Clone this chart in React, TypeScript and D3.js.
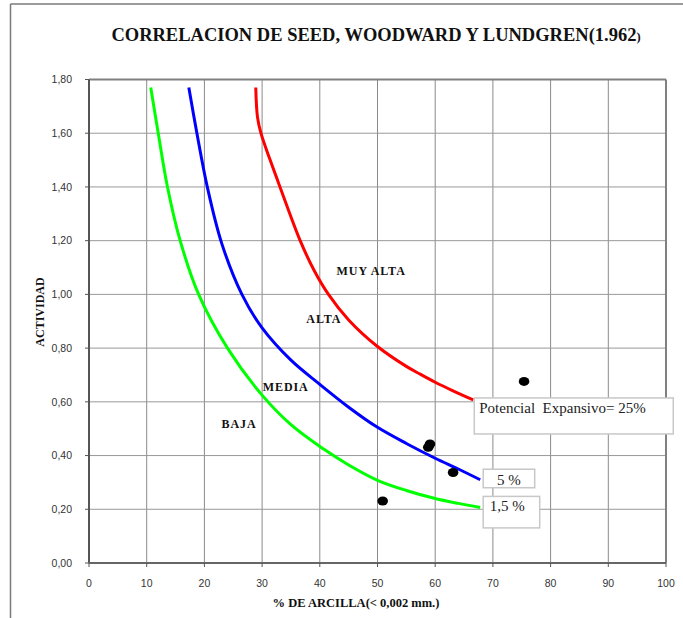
import React from "react";
import * as d3 from "d3";

const xTicks = [0, 10, 20, 30, 40, 50, 60, 70, 80, 90, 100];
const yTicks = [0, 0.2, 0.4, 0.6, 0.8, 1.0, 1.2, 1.4, 1.6, 1.8];

// [clay %, activity]
const greenCurve: [number, number][] = [
  [10.7, 1.77], [12.0, 1.6], [13.6, 1.4], [15.8, 1.2], [19.0, 1.0], [24.0, 0.8],
  [30.0, 0.625], [35.0, 0.515], [40.6, 0.425], [45.0, 0.365], [50.0, 0.308],
  [55.0, 0.27], [60.0, 0.24], [64.0, 0.222], [67.8, 0.207],
];
const blueCurve: [number, number][] = [
  [17.3, 1.77], [18.7, 1.6], [20.5, 1.4], [23.0, 1.19], [26.5, 1.0], [30.0, 0.875],
  [35.0, 0.755], [40.0, 0.665], [45.0, 0.58], [50.0, 0.505], [55.0, 0.445],
  [60.0, 0.39], [64.0, 0.35], [67.8, 0.31],
];
const redCurve: [number, number][] = [
  [28.9, 1.77], [29.2, 1.66], [29.8, 1.6], [31.4, 1.5], [33.1, 1.4], [36.6, 1.2],
  [39.0, 1.09], [41.5, 1.0], [45.0, 0.905], [50.0, 0.806], [55.0, 0.732],
  [57.4, 0.703], [60.0, 0.673], [63.0, 0.642], [66.6, 0.607],
];
const samples: [number, number][] = [
  [75.4, 0.676], [59.1, 0.443], [58.8, 0.431], [63.1, 0.337], [50.9, 0.231],
];
const zoneLabels: { text: string; c: number; a: number }[] = [
  { text: "MUY ALTA", c: 48.9, a: 1.073 },
  { text: "ALTA", c: 40.7, a: 0.895 },
  { text: "MEDIA", c: 34.1, a: 0.642 },
  { text: "BAJA", c: 26.0, a: 0.502 },
];
const curveLabels = ["Potencial  Expansivo= 25%", "5 %", "1,5 %"];

const W = 683, H = 618;
const x = d3.scaleLinear().domain([0, 100]).range([89, 666]);
const y = d3.scaleLinear().domain([0, 1.8]).range([563, 79.5]);
const line = d3
  .line<[number, number]>()
  .x((d) => x(d[0]))
  .y((d) => y(d[1]))
  .curve(d3.curveCatmullRom.alpha(0.5));

const fmtY = (v: number) => v.toFixed(2).replace(".", ",");
const serif = "'Liberation Serif', 'Times New Roman', serif";
const sans = "'Liberation Sans', Arial, sans-serif";

export default function App() {
  const redEnd = redCurve[redCurve.length - 1];
  const blueEnd = blueCurve[blueCurve.length - 1];
  const greenEnd = greenCurve[greenCurve.length - 1];
  return (
    <svg width={W} height={H} style={{ position: "absolute", left: 0, top: 0, background: "#fff" }}>
      <rect x={0} y={0} width={W} height={H} fill="#fff" />
      {/* outer frame */}
      <line x1={10.5} y1={4} x2={W} y2={4} stroke="#7a7a7a" strokeWidth={1.5} />
      <line x1={10.5} y1={4} x2={10.5} y2={H} stroke="#7a7a7a" strokeWidth={1.5} />

      <text x={376} y={41} textAnchor="middle" fontFamily={serif} fontWeight="bold" fontSize={18.5} fill="#111">
        CORRELACION DE SEED, WOODWARD Y LUNDGREN(1.962<tspan fontSize={12.5}>)</tspan>
      </text>

      {/* grid */}
      {xTicks.slice(1, -1).map((t) => (
        <line key={"gx" + t} x1={x(t)} x2={x(t)} y1={y(1.8)} y2={y(0)} stroke="#8a8a8a" strokeWidth={1} />
      ))}
      {yTicks.slice(1, -1).map((t) => (
        <line key={"gy" + t} x1={x(0)} x2={x(100)} y1={y(t)} y2={y(t)} stroke="#999" strokeWidth={1} />
      ))}
      {/* plot frame */}
      <line x1={x(0)} x2={x(100)} y1={y(1.8)} y2={y(1.8)} stroke="#808080" strokeWidth={2} />
      <line x1={x(100)} x2={x(100)} y1={y(1.8)} y2={y(0)} stroke="#808080" strokeWidth={2} />
      <line x1={x(0)} x2={x(0)} y1={y(1.8)} y2={y(0)} stroke="#555" strokeWidth={2} />
      <line x1={x(0)} x2={x(100)} y1={y(0)} y2={y(0)} stroke="#666" strokeWidth={2} />

      {/* ticks */}
      {yTicks.map((t) => (
        <g key={"ty" + t}>
          <line x1={x(0) - 4} x2={x(0)} y1={y(t)} y2={y(t)} stroke="#555" strokeWidth={1} />
          <text x={72} y={y(t)} dy="0.35em" textAnchor="end" fontFamily={sans} fontSize={10.5} fill="#333">
            {fmtY(t)}
          </text>
        </g>
      ))}
      {xTicks.map((t) => (
        <g key={"tx" + t}>
          <line x1={x(t)} x2={x(t)} y1={y(0)} y2={y(0) + 4} stroke="#555" strokeWidth={1} />
          <text x={x(t)} y={587} textAnchor="middle" fontFamily={sans} fontSize={10.5} fill="#333">
            {t}
          </text>
        </g>
      ))}

      <text x={356} y={607} textAnchor="middle" fontFamily={serif} fontWeight="bold" fontSize={12.5} fill="#111">
        % DE ARCILLA(&lt; 0,002 mm.)
      </text>
      <text
        transform={`translate(44,312) rotate(-90)`}
        textAnchor="middle"
        fontFamily={serif}
        fontWeight="bold"
        fontSize={12}
        fill="#111"
      >
        ACTIVIDAD
      </text>

      {/* curves */}
      <path d={line(greenCurve) || ""} fill="none" stroke="#00ff00" strokeWidth={3} />
      <path d={line(blueCurve) || ""} fill="none" stroke="#0000ff" strokeWidth={3} />
      <path d={line(redCurve) || ""} fill="none" stroke="#ff0000" strokeWidth={3} />

      {/* zone labels */}
      {zoneLabels.map((z) => (
        <text
          key={z.text}
          x={x(z.c)}
          y={y(z.a)}
          textAnchor="middle"
          fontFamily={serif}
          fontWeight="bold"
          fontSize={12}
          letterSpacing={0.9}
          fill="#111"
        >
          {z.text}
        </text>
      ))}

      {/* samples */}
      {samples.map((s, i) => (
        <ellipse key={"s" + i} cx={x(s[0])} cy={y(s[1])} rx={5.3} ry={4.5} fill="#000" />
      ))}

      {/* curve label boxes */}
      <g>
        <rect x={x(redEnd[0]) + 1} y={y(redEnd[1]) - 2} width={199} height={36} fill="#fff" stroke="#c8c8c8" strokeWidth={1.5} />
        <text x={x(redEnd[0]) + 6} y={y(redEnd[1]) + 13.5} fontFamily={serif} fontSize={15} fill="#222" style={{ whiteSpace: "pre" }}>
          {curveLabels[0]}
        </text>
      </g>
      <g>
        <rect x={x(blueEnd[0]) + 3} y={y(blueEnd[1]) - 10.5} width={51.5} height={18.5} fill="#fff" stroke="#c8c8c8" strokeWidth={1.5} />
        <text x={x(blueEnd[0]) + 28.7} y={y(blueEnd[1]) + 5} textAnchor="middle" fontFamily={serif} fontSize={15} fill="#222">
          {curveLabels[1]}
        </text>
      </g>
      <g>
        <rect x={x(greenEnd[0]) + 3} y={y(greenEnd[1]) - 11} width={56.5} height={31.5} fill="#fff" stroke="#c8c8c8" strokeWidth={1.5} />
        <text x={x(greenEnd[0]) + 9.5} y={y(greenEnd[1]) + 4} fontFamily={serif} fontSize={15} fill="#222">
          {curveLabels[2]}
        </text>
      </g>
    </svg>
  );
}
